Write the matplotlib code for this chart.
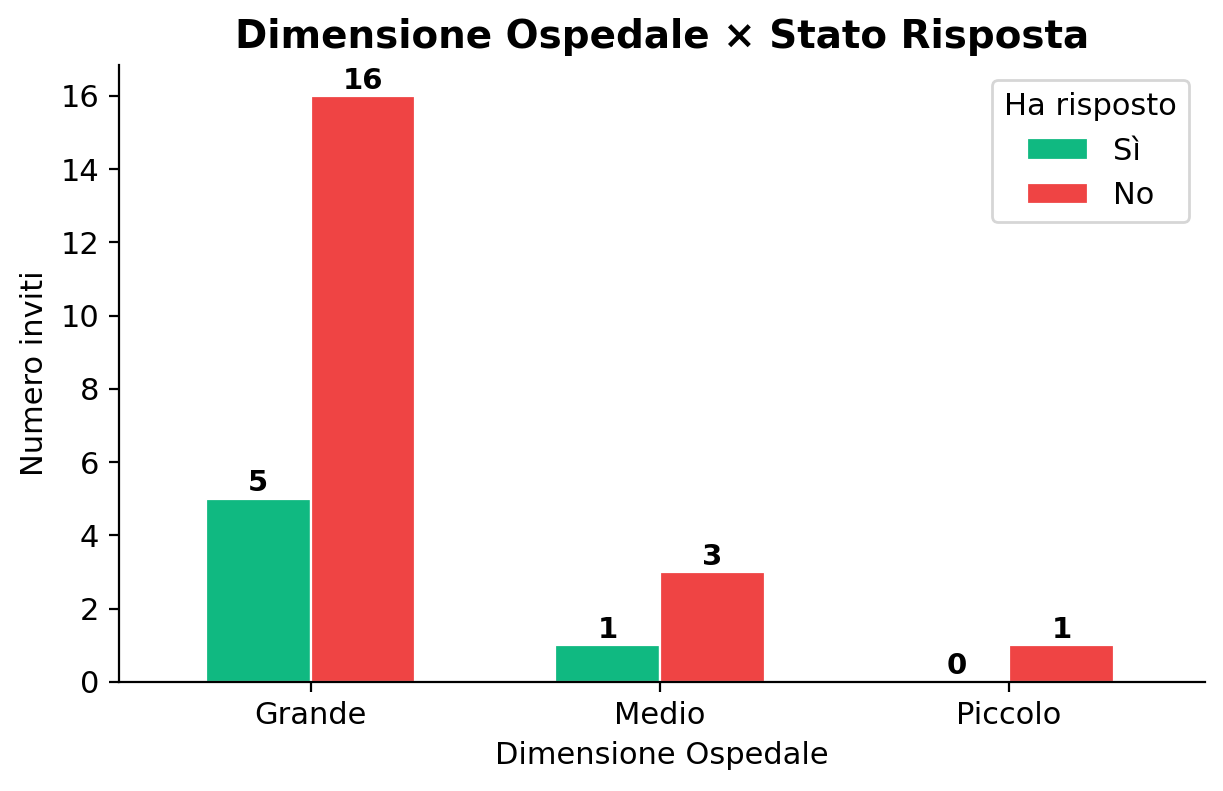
import matplotlib
matplotlib.use("Agg")
import matplotlib.pyplot as plt
import numpy as np

categories = ["Grande", "Medio", "Piccolo"]
si_values = [5, 1, 0]
no_values = [16, 3, 1]
series_names = ["Sì", "No"]
colors = ["#10b981", "#ef4444"]

fig, ax = plt.subplots(figsize=(6.115, 3.955), dpi=200)
x = np.arange(len(categories))
w = 0.3
bars1 = ax.bar(x - w / 2, si_values, w, color=colors[0], edgecolor="white", linewidth=0.8, label=series_names[0])
bars2 = ax.bar(x + w / 2, no_values, w, color=colors[1], edgecolor="white", linewidth=0.8, label=series_names[1])

for bars in (bars1, bars2):
    for b in bars:
        h = b.get_height()
        ax.annotate(f"{int(h)}", (b.get_x() + b.get_width() / 2, h), xytext=(0, 0.5),
                    textcoords="offset points", ha="center", va="bottom",
                    fontsize=10.5, fontweight="bold")

ax.set_xticks(x)
ax.set_xticklabels(categories, fontsize=11)
ax.tick_params(axis="y", labelsize=11)
ax.set_xlim(-0.55, 2.56)
ax.set_ylim(0, 16.85)
ax.set_xlabel("Dimensione Ospedale", fontsize=11)
ax.set_ylabel("Numero inviti", fontsize=11)
ax.set_title("Dimensione Ospedale × Stato Risposta", fontsize=14, fontweight="bold")
ax.spines["top"].set_visible(False)
ax.spines["right"].set_visible(False)
ax.legend(title="Ha risposto", loc="upper right", fontsize=11, title_fontsize=11)

fig.subplots_adjust(left=0.097, right=0.985, top=0.918, bottom=0.138)
fig.savefig("out.png", dpi=200)
